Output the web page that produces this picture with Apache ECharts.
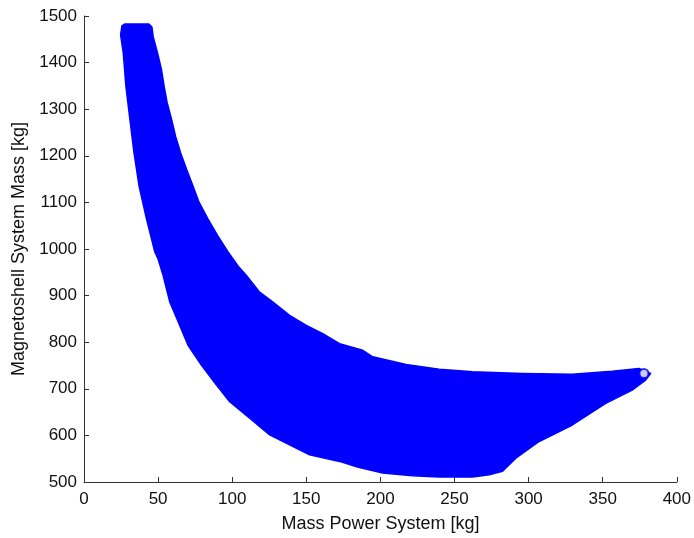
<!DOCTYPE html>
<html>
<head>
<meta charset="utf-8">
<script src="https://cdn.jsdelivr.net/npm/echarts@6/dist/echarts.min.js"></script>
<style>html,body{margin:0;padding:0;background:#fff}#c{width:694px;height:538px}</style>
</head>
<body>
<div id="c"></div>
<script>
// Outline of the dense cloud of points (clockwise from top-left)
const boundaryX = [24.7, 25.6, 27.6, 43.8, 45.8, 46.7,
  49.6, 52.3, 54.1, 56.1, 59.1, 61.8, 65.1, 69.2, 73.6, 77.6, 83.7, 90.4, 97.2, 103.9,
  109.6, 118.5, 127.5, 138.7, 150.0, 161.1, 172.4, 188.1, 194.8, 217.3, 239.7, 262.2,
  295.8, 329.5, 356.4, 374.4, 382.3, 378.9, 369.9, 352.0, 329.5, 307.1, 291.4, 282.4,
  273.4, 262.2, 239.7, 221.8, 201.5, 184.5, 172.4, 152.2, 138.7, 125.3, 111.8, 98.3,
  89.4, 79.3, 70.2, 64.6, 57.9, 53.4, 50.0, 47.8, 42.2, 37.2, 33.7, 31.0, 28.3, 26.5];
const boundaryY = [1459.4, 1478.6, 1482.9, 1482.9, 1476.5, 1455.1,
  1420.9, 1384.6, 1348.3, 1314.1, 1277.8, 1241.5, 1207.3, 1170.9, 1134.6, 1100.4, 1064.1, 1027.8, 993.6, 963.7,
  943.0, 907.5, 886.1, 857.5, 836.1, 818.4, 797.0, 782.7, 768.6, 752.1, 742.1, 736.5,
  732.9, 731.4, 737.8, 743.6, 732.9, 718.6, 697.2, 668.8, 622.4, 587.0, 551.3, 522.9,
  515.6, 510.7, 510.7, 513.5, 519.2, 532.1, 544.2, 558.3, 579.7, 601.1, 636.8, 672.4,
  707.9, 750.6, 793.4, 836.1, 886.1, 943.0, 978.6, 993.6, 1064.1, 1134.6, 1207.3, 1277.8, 1348.3, 1420.9];
// Isolated point at the right tip
const tipX = [377.8];
const tipY = [732.9];

const xName = 'Mass Power System [kg]';
const yName = 'Magnetoshell System Mass [kg]';

const chart = echarts.init(document.getElementById('c'), null, {renderer: 'canvas'});
const axisCommon = {
  axisLine: {show: true, lineStyle: {color: '#333', width: 1}},
  axisTick: {show: true, inside: true, length: 5, lineStyle: {color: '#333'}},
  splitLine: {show: false},
  axisLabel: {color: '#111', fontFamily: 'Liberation Sans, Arial', fontSize: 17, formatter: v => String(v)},
  nameTextStyle: {color: '#111', fontFamily: 'Liberation Sans, Arial', fontSize: 18}
};
chart.setOption({
  animation: false,
  grid: {left: 84, top: 16, right: 16, bottom: 54},
  xAxis: Object.assign({}, axisCommon, {
    type: 'value', min: 0, max: 400, interval: 50,
    name: xName, nameLocation: 'middle', nameGap: 33,
    axisLabel: Object.assign({}, axisCommon.axisLabel, {margin: 9})
  }),
  yAxis: Object.assign({}, axisCommon, {
    type: 'value', min: 500, max: 1500, interval: 100,
    name: yName, nameLocation: 'middle', nameGap: 52,
    axisLabel: Object.assign({}, axisCommon.axisLabel, {margin: 7})
  }),
  series: [
    {
      type: 'custom',
      data: boundaryX.map((x, i) => [x, boundaryY[i]]),
      renderItem: function (params, api) {
        if (params.dataIndex !== 0) return null;
        const pts = boundaryX.map((x, i) => api.coord([x, boundaryY[i]]));
        return {
          type: 'polygon',
          shape: {points: pts},
          style: {fill: '#0000ff', stroke: '#0000ff', lineWidth: 1.5, lineJoin: 'round'}
        };
      },
      silent: true
    },
    {
      type: 'scatter',
      data: tipX.map((x, i) => [x, tipY[i]]),
      symbol: 'circle',
      symbolSize: 9,
      itemStyle: {color: '#ffffff', borderColor: '#0000ff', borderWidth: 2}
    }
  ]
});
</script>
</body>
</html>
